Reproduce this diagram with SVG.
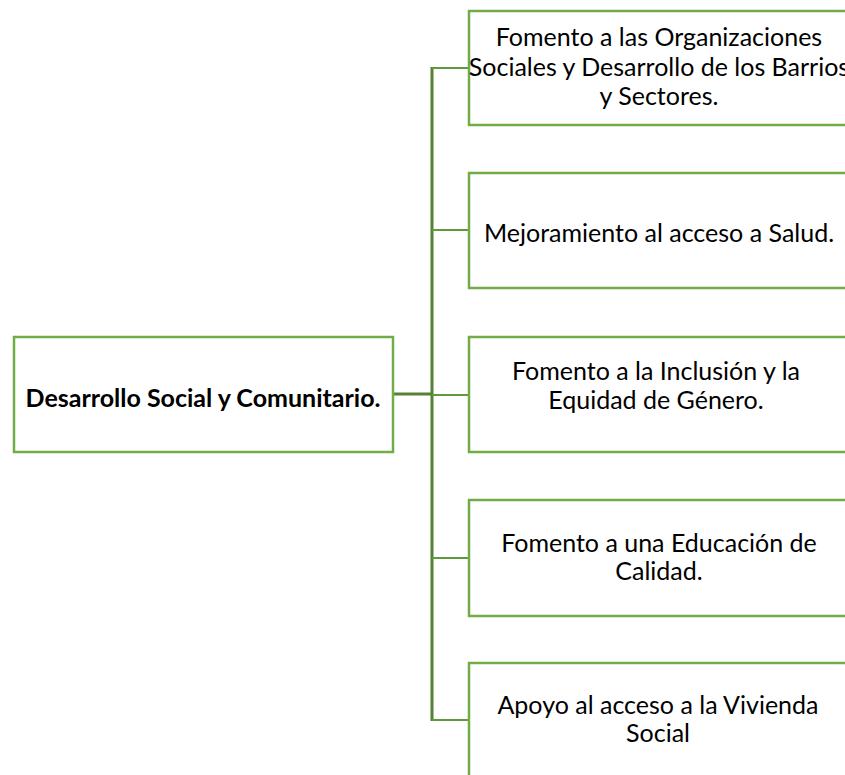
<svg xmlns="http://www.w3.org/2000/svg" width="845" height="775" viewBox="0 0 845 775">
<style>
.box{fill:#ffffff;stroke:#70AD47;stroke-width:2.5}
.t{font-family:Lato,"Open Sans","Liberation Sans",sans-serif;font-size:25px;fill:#000;text-anchor:middle}
.b{font-weight:bold}
.trunk{stroke:#548235;stroke-width:3;fill:none}
.br{stroke:#5E9A3A;stroke-width:2;fill:none}
</style>
<rect width="845" height="775" fill="#ffffff"/>
<g id="connectors">
<line class="trunk" x1="393" y1="394" x2="432" y2="394"/>
<line class="trunk" x1="432" y1="67" x2="432" y2="721"/>
<line class="br" x1="432" y1="68" x2="469" y2="68"/>
<line class="br" x1="432" y1="230" x2="469" y2="230"/>
<line class="br" x1="432" y1="395" x2="469" y2="395"/>
<line class="br" x1="432" y1="558" x2="469" y2="558"/>
<line class="br" x1="432" y1="720" x2="469" y2="720"/>
</g>
<g id="root">
<rect class="box" x="14" y="337" width="379" height="115"/>
<text class="t b" x="203" y="407">Desarrollo Social y Comunitario.</text>
</g>
<g id="n1">
<rect class="box" x="469" y="11" width="390" height="114"/>
<text class="t" x="659" y="46">Fomento a las Organizaciones</text>
<text class="t" x="659" y="76">Sociales y Desarrollo de los Barrios</text>
<text class="t" x="659" y="105">y Sectores.</text>
</g>
<g id="n2">
<rect class="box" x="469" y="173" width="390" height="115"/>
<text class="t" x="659" y="242">Mejoramiento al acceso a Salud.</text>
</g>
<g id="n3">
<rect class="box" x="469" y="337" width="390" height="115"/>
<text class="t" x="656" y="380">Fomento a la Inclusión y la</text>
<text class="t" x="656" y="409">Equidad de Género.</text>
</g>
<g id="n4">
<rect class="box" x="469" y="500" width="390" height="116"/>
<text class="t" x="659" y="552">Fomento a una Educación de</text>
<text class="t" x="659" y="580">Calidad.</text>
</g>
<g id="n5">
<rect class="box" x="469" y="663" width="390" height="130"/>
<text class="t" x="658" y="714">Apoyo al acceso a la Vivienda</text>
<text class="t" x="658" y="742">Social</text>
</g>
</svg>
